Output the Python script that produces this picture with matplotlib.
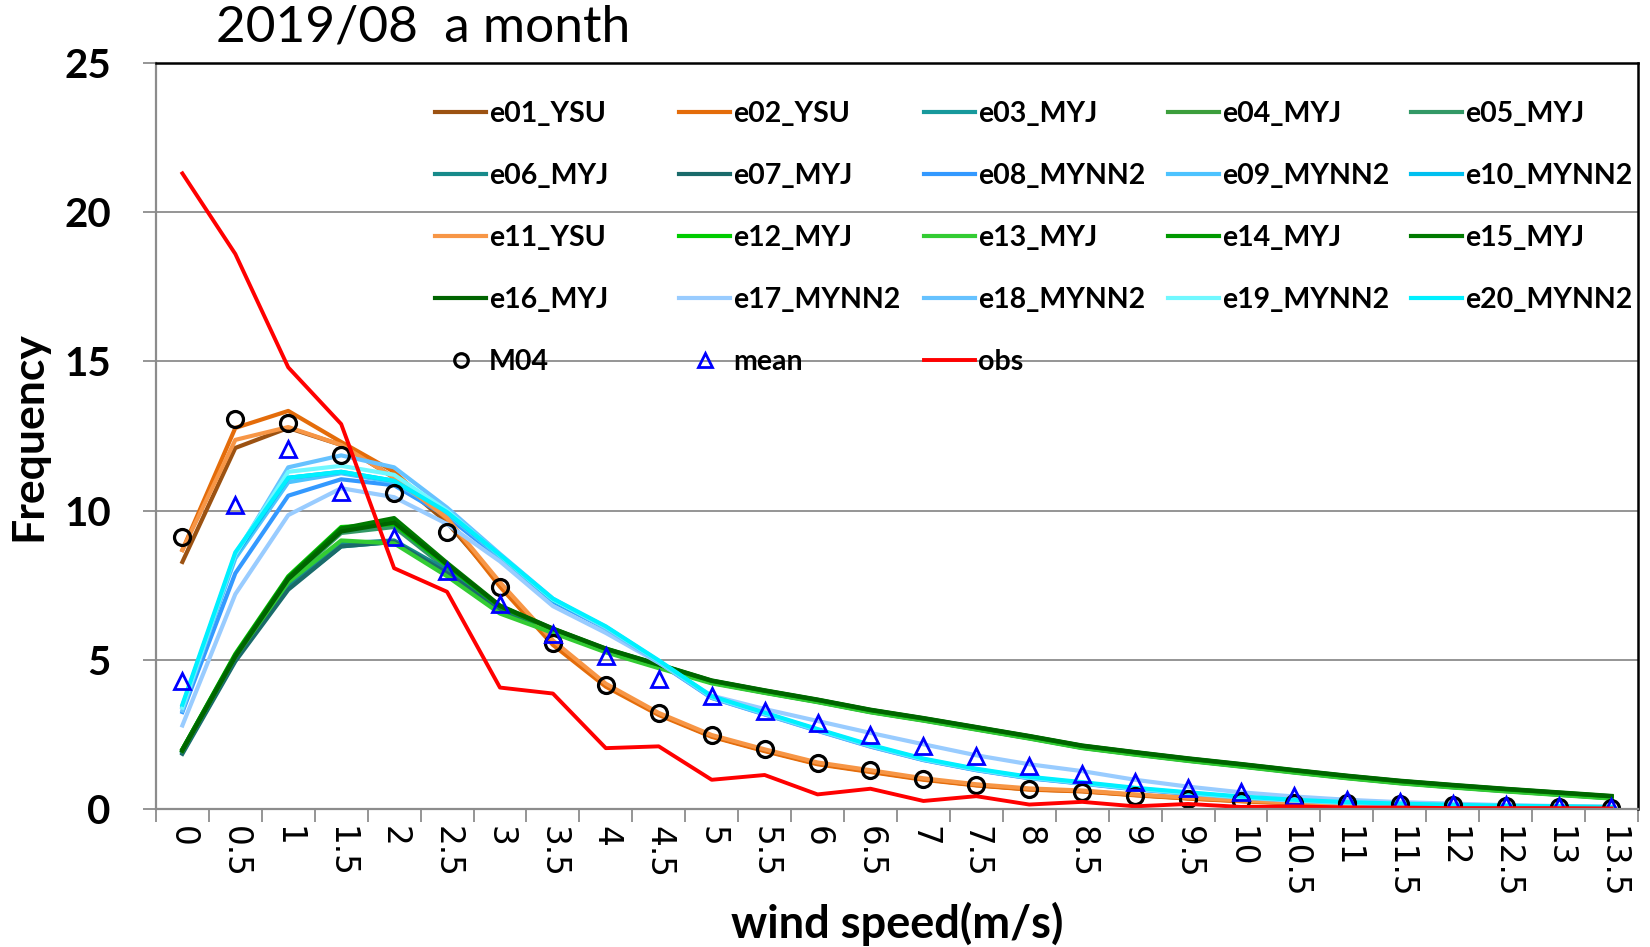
import numpy as np
import matplotlib.pyplot as plt

plt.rcParams['font.family'] = ['Lato', 'DejaVu Sans']

# wind speed categories (m/s)
speeds = ['0', '0.5', '1', '1.5', '2', '2.5', '3', '3.5', '4', '4.5', '5', '5.5', '6', '6.5',
          '7', '7.5', '8', '8.5', '9', '9.5', '10', '10.5', '11', '11.5', '12', '12.5', '13', '13.5']

# ensemble members, frequency per wind speed bin
e01_ysu = [8.28, 12.1, 12.77, 12.2, 11.1, 9.6, 7.55, 5.6, 4.15, 3.18, 2.44, 1.96, 1.52, 1.26,
           1.0, 0.8, 0.66, 0.6, 0.47, 0.36, 0.27, 0.2, 0.16, 0.12, 0.09, 0.07, 0.05, 0.04]
e02_ysu = [8.68, 12.77, 13.34, 12.3, 11.3, 9.7, 7.45, 5.5, 4.1, 3.15, 2.42, 1.94, 1.5, 1.24,
           0.98, 0.79, 0.65, 0.59, 0.46, 0.35, 0.26, 0.19, 0.15, 0.11, 0.08, 0.06, 0.05, 0.04]
e03_myj = [1.9, 5.0, 7.4, 8.8, 8.95, 7.95, 6.7, 5.98, 5.32, 4.78, 4.24, 3.91, 3.6, 3.26,
           2.98, 2.68, 2.38, 2.06, 1.84, 1.63, 1.44, 1.24, 1.05, 0.88, 0.74, 0.61, 0.49, 0.37]
e04_myj = [1.95, 5.1, 7.7, 9.3, 9.5, 8.1, 6.75, 6.0, 5.33, 4.8, 4.26, 3.93, 3.62, 3.28,
           3.0, 2.7, 2.4, 2.08, 1.86, 1.65, 1.46, 1.26, 1.07, 0.9, 0.76, 0.63, 0.51, 0.39]
e05_myj = [1.95, 5.1, 7.65, 9.25, 9.45, 8.05, 6.72, 5.99, 5.32, 4.79, 4.25, 3.92, 3.61, 3.27,
           2.99, 2.69, 2.39, 2.07, 1.85, 1.64, 1.45, 1.25, 1.06, 0.89, 0.75, 0.62, 0.5, 0.38]
e06_myj = [1.9, 5.05, 7.5, 8.9, 9.0, 8.0, 6.72, 5.99, 5.32, 4.79, 4.25, 3.92, 3.61, 3.27,
           2.99, 2.69, 2.39, 2.07, 1.85, 1.64, 1.45, 1.25, 1.06, 0.89, 0.75, 0.62, 0.5, 0.38]
e07_myj = [1.85, 4.95, 7.35, 8.8, 8.95, 7.9, 6.68, 5.96, 5.3, 4.77, 4.23, 3.9, 3.59, 3.25,
           2.97, 2.67, 2.37, 2.05, 1.83, 1.62, 1.43, 1.23, 1.04, 0.87, 0.73, 0.6, 0.48, 0.36]
e08_mynn2 = [3.25, 7.9, 10.5, 11.05, 10.85, 9.8, 8.4, 6.95, 6.05, 4.9, 3.72, 3.17, 2.62, 2.09,
             1.64, 1.3, 1.03, 0.85, 0.66, 0.51, 0.38, 0.28, 0.2, 0.15, 0.11, 0.08, 0.06, 0.05]
e09_mynn2 = [3.4, 8.4, 10.95, 11.25, 10.95, 9.9, 8.45, 7.0, 6.08, 4.93, 3.74, 3.19, 2.64, 2.11,
             1.65, 1.31, 1.04, 0.86, 0.67, 0.52, 0.38, 0.28, 0.21, 0.16, 0.12, 0.09, 0.07, 0.05]
e10_mynn2 = [3.45, 8.5, 11.1, 11.3, 11.0, 9.95, 8.5, 7.0, 6.1, 4.95, 3.75, 3.2, 2.65, 2.12,
             1.66, 1.32, 1.05, 0.87, 0.68, 0.53, 0.39, 0.29, 0.21, 0.16, 0.12, 0.09, 0.07, 0.06]
e11_ysu = [8.68, 12.37, 12.8, 12.2, 11.1, 9.75, 7.6, 5.65, 4.2, 3.22, 2.48, 2.0, 1.56, 1.3,
           1.03, 0.83, 0.69, 0.62, 0.49, 0.38, 0.29, 0.21, 0.17, 0.13, 0.1, 0.07, 0.06, 0.05]
e12_myj = [2.0, 5.2, 7.8, 9.45, 9.55, 8.15, 6.78, 6.02, 5.35, 4.82, 4.28, 3.95, 3.64, 3.3,
           3.02, 2.72, 2.42, 2.1, 1.88, 1.67, 1.48, 1.28, 1.09, 0.92, 0.78, 0.65, 0.53, 0.41]
e13_myj = [1.95, 5.1, 7.6, 9.0, 8.9, 7.8, 6.55, 5.9, 5.25, 4.72, 4.21, 3.89, 3.58, 3.24,
           2.96, 2.66, 2.36, 2.04, 1.82, 1.61, 1.42, 1.22, 1.03, 0.86, 0.72, 0.59, 0.47, 0.35]
e14_myj = [2.0, 5.15, 7.75, 9.4, 9.65, 8.2, 6.8, 6.03, 5.36, 4.83, 4.29, 3.96, 3.65, 3.31,
           3.03, 2.73, 2.43, 2.11, 1.89, 1.68, 1.49, 1.29, 1.1, 0.93, 0.79, 0.66, 0.54, 0.42]
e15_myj = [2.0, 5.15, 7.75, 9.4, 9.75, 8.25, 6.82, 6.05, 5.38, 4.85, 4.31, 3.98, 3.67, 3.33,
           3.05, 2.75, 2.45, 2.13, 1.91, 1.7, 1.51, 1.31, 1.12, 0.95, 0.81, 0.68, 0.56, 0.44]
e16_myj = [1.95, 5.1, 7.7, 9.3, 9.6, 8.2, 6.8, 6.04, 5.37, 4.84, 4.3, 3.97, 3.66, 3.32,
           3.04, 2.74, 2.44, 2.12, 1.9, 1.69, 1.5, 1.3, 1.11, 0.94, 0.8, 0.67, 0.55, 0.43]
e17_mynn2 = [2.8, 7.2, 9.85, 10.75, 10.45, 9.55, 8.3, 6.8, 5.9, 4.9, 3.8, 3.35, 2.95, 2.55,
             2.17, 1.8, 1.5, 1.27, 0.98, 0.75, 0.56, 0.42, 0.31, 0.23, 0.18, 0.13, 0.1, 0.08]
e18_mynn2 = [3.3, 8.5, 11.45, 11.85, 11.45, 10.1, 8.55, 7.05, 6.05, 4.92, 3.73, 3.18, 2.63, 2.1,
             1.65, 1.31, 1.04, 0.86, 0.67, 0.52, 0.38, 0.28, 0.2, 0.15, 0.11, 0.08, 0.06, 0.05]
e19_mynn2 = [3.4, 8.55, 11.3, 11.5, 11.2, 10.0, 8.5, 7.02, 6.1, 4.96, 3.76, 3.21, 2.66, 2.13,
             1.67, 1.33, 1.06, 0.88, 0.69, 0.54, 0.4, 0.3, 0.22, 0.17, 0.13, 0.1, 0.08, 0.06]
e20_mynn2 = [3.5, 8.6, 11.1, 11.3, 11.0, 9.95, 8.52, 7.05, 6.12, 4.98, 3.78, 3.23, 2.68, 2.15,
             1.69, 1.35, 1.08, 0.9, 0.71, 0.56, 0.42, 0.31, 0.23, 0.18, 0.14, 0.11, 0.09, 0.07]

m04 = [9.1, 13.08, 12.94, 11.88, 10.6, 9.27, 7.45, 5.57, 4.17, 3.21, 2.48, 2.0, 1.54, 1.3,
       1.01, 0.82, 0.68, 0.56, 0.43, 0.35, 0.26, 0.2, 0.19, 0.16, 0.13, 0.09, 0.07, 0.05]
ens_mean = [4.3, 10.19, 12.06, 10.61, 9.13, 7.97, 6.87, 5.88, 5.12, 4.35, 3.78, 3.28, 2.88, 2.48,
            2.1, 1.77, 1.44, 1.16, 0.9, 0.69, 0.56, 0.42, 0.31, 0.23, 0.17, 0.12, 0.1, 0.07]
obs = [21.3, 18.6, 14.8, 12.9, 8.07, 7.28, 4.07, 3.87, 2.04, 2.1, 0.98, 1.14, 0.49, 0.68,
       0.27, 0.43, 0.15, 0.24, 0.09, 0.17, 0.07, 0.09, 0.05, 0.05, 0.03, 0.03, 0.03, 0.02]

members = [
    ('e01_YSU', e01_ysu), ('e02_YSU', e02_ysu), ('e03_MYJ', e03_myj), ('e04_MYJ', e04_myj),
    ('e05_MYJ', e05_myj), ('e06_MYJ', e06_myj), ('e07_MYJ', e07_myj), ('e08_MYNN2', e08_mynn2),
    ('e09_MYNN2', e09_mynn2), ('e10_MYNN2', e10_mynn2), ('e11_YSU', e11_ysu), ('e12_MYJ', e12_myj),
    ('e13_MYJ', e13_myj), ('e14_MYJ', e14_myj), ('e15_MYJ', e15_myj), ('e16_MYJ', e16_myj),
    ('e17_MYNN2', e17_mynn2), ('e18_MYNN2', e18_mynn2), ('e19_MYNN2', e19_mynn2),
    ('e20_MYNN2', e20_mynn2),
]
colors = {
    'e01_YSU': '#9C5212', 'e02_YSU': '#E46C0A', 'e03_MYJ': '#17999C', 'e04_MYJ': '#3C9E3C',
    'e05_MYJ': '#339966', 'e06_MYJ': '#178A8A', 'e07_MYJ': '#1A6B6B', 'e08_MYNN2': '#3399FF',
    'e09_MYNN2': '#4DC3FF', 'e10_MYNN2': '#00C0F0', 'e11_YSU': '#F79646', 'e12_MYJ': '#00CC00',
    'e13_MYJ': '#33CC33', 'e14_MYJ': '#009900', 'e15_MYJ': '#007A00', 'e16_MYJ': '#006400',
    'e17_MYNN2': '#99CCFF', 'e18_MYNN2': '#66C2FF', 'e19_MYNN2': '#70F8FF', 'e20_MYNN2': '#00F0FF',
}

fig = plt.figure(figsize=(16.5, 9.47), dpi=100)
ax = fig.add_axes([0.0945, 0.1457, 0.8982, 0.7878])
x = np.arange(len(speeds))

handles = []
for name, vals in members:
    h, = ax.plot(x, vals, color=colors[name], lw=3.0, label=name)
    handles.append(h)
h_m04, = ax.plot(x, m04, ls='none', marker='o', ms=11.5, mfc='none', mec='black', mew=2.3, label='M04')
h_mean, = ax.plot(x, ens_mean, ls='none', marker='^', ms=11.5, mfc='none', mec='blue', mew=2.0, label='mean')
h_obs, = ax.plot(x, obs, color='red', lw=2.8, label='obs')
handles += [h_m04, h_mean, h_obs]

ax.set_xlim(-0.5, len(speeds) - 0.5)
ax.set_ylim(0, 25)
ax.set_yticks(range(0, 26, 5))
ax.yaxis.grid(True, color='#8c8c8c', lw=1.3)
ax.set_axisbelow(True)

# category axis: tick marks between bins, labels at bin centres
ax.set_xticks(np.arange(-0.5, len(speeds), 1))
ax.tick_params(axis='x', which='major', length=9.5, width=1.3, color='#8c8c8c', labelbottom=False)
ax.set_xticks(x, minor=True)
ax.set_xticklabels(speeds, minor=True, rotation=-90, family='DejaVu Sans', fontsize=23.5)
ax.tick_params(axis='x', which='minor', length=0, pad=12)
ax.tick_params(axis='y', length=9.5, width=1.3, color='#8c8c8c', pad=23)
for lab in ax.get_yticklabels():
    lab.set_fontsize(29)
    lab.set_fontweight('bold')

for side in ['left', 'bottom']:
    ax.spines[side].set_color('#8c8c8c')
    ax.spines[side].set_linewidth(1.6)
for side in ['top', 'right']:
    ax.spines[side].set_color('black')
    ax.spines[side].set_linewidth(1.8)

ax.set_ylabel('Frequency', fontsize=32, fontweight='bold', va='center')
ax.yaxis.set_label_coords(-0.086, 0.5)
ax.set_xlabel('wind speed(m/s)', fontsize=32.5, fontweight='bold', va='center')
ax.xaxis.set_label_coords(0.5, -0.154)

fig.text(0.131, 0.971, '2019/08  a month', fontsize=37, va='center', ha='left')

# legend laid out row by row in 5 columns, like the spreadsheet legend
col_x = [0.1883, 0.3529, 0.5182, 0.6829, 0.8468]
for c in range(5):
    col_h = handles[c::5]
    legend = ax.legend(col_h, [h.get_label() for h in col_h], loc='upper left',
                       bbox_to_anchor=(col_x[c], 0.949), frameon=False, borderpad=0,
                       borderaxespad=0, handlelength=1.8, handletextpad=0.1, labelspacing=1.26,
                       markerscale=0.85,
                       prop={'family': 'Lato', 'weight': 'bold', 'size': 20.5})
    if c < 4:
        ax.add_artist(legend)

fig.savefig('out.png', dpi=100)
